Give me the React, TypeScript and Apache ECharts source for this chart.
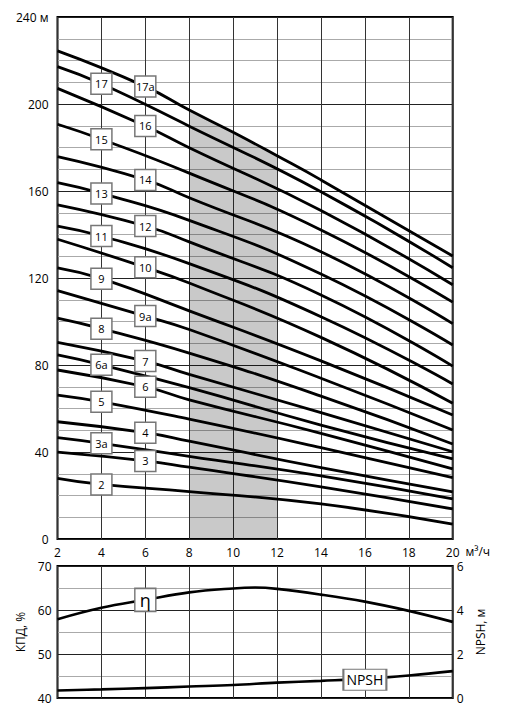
import { useEffect, useRef } from 'react';
import * as echarts from 'echarts';

// Pump head curves (top chart), ordered from the top curve to the bottom one
const curveNames = ['17a', '17', '16', '15', '14', '13', '12', '11', '10', '9', '9a', '8', '7', '6a', '6', '5', '4', '3a', '3', '2'];
const headAtQ2 = [224.4, 217.2, 207.2, 190.7, 175.8, 163.8, 153.6, 143.9, 137.8, 124.7, 114.2, 101.5, 90.4, 84.6, 77.7, 66.2, 53.9, 46.6, 39.9, 27.9];
const headAtQ8 = [197.2, 189.8, 179.9, 168.2, 156.9, 146.5, 136.6, 126.6, 117.7, 104.9, 96.3, 85.5, 75.7, 69.6, 64.0, 55.1, 45.0, 38.0, 33.0, 21.8];
const headAtQ14 = [165.1, 159.7, 151.0, 142.1, 132.1, 121.8, 112.2, 102.2, 92.7, 81.9, 73.9, 65.7, 58.1, 52.4, 48.6, 42.0, 32.8, 29.0, 24.0, 16.1];
const headAtQ20 = [130.1, 124.7, 116.9, 108.9, 99.0, 89.2, 79.5, 71.3, 62.4, 57.0, 50.1, 43.7, 40.1, 36.8, 32.2, 28.2, 21.7, 18.4, 13.8, 6.8];
// label tags sit on the curves
const labelFlow = [6, 4, 6, 4, 6, 4, 6, 4, 6, 4, 6, 4, 6, 4, 6, 4, 6, 4, 6, 4];
const labelHead = [208.0, 209.3, 189.9, 183.8, 165.1, 158.9, 143.9, 139.3, 124.9, 119.7, 102.5, 96.7, 81.8, 80.1, 70.0, 63.1, 48.9, 44.0, 35.9, 25.1];

// shaded working range (under the top curve 17a)
const bandFlow = [8, 10, 12];
const bandHead = [197.2, 187.0, 176.2];

// Efficiency (left axis, %) and NPSH (right axis, m)
const effFlow = [2, 4, 6, 8, 10, 11, 12, 14, 16, 18, 20];
const effValues = [57.9, 60.5, 62.3, 64.0, 64.9, 65.1, 64.8, 63.5, 61.9, 59.8, 57.3];
const npshFlow = [2, 4, 6, 8, 10, 12, 14, 16, 18, 20];
const npshValues = [0.34, 0.39, 0.45, 0.52, 0.59, 0.7, 0.78, 0.87, 1.02, 1.22];
const effLabel = { flow: 6, value: 62.3, text: 'η' };
const npshLabel = { flow: 16, value: 0.83, text: 'NPSH' };

const FONT = '"Open Sans", "Noto Sans", sans-serif';

export default function App() {
  const ref = useRef<HTMLDivElement>(null);
  useEffect(() => {
    if (!ref.current) return;
    const chart = echarts.init(ref.current, null, { renderer: 'svg' });

    const curveSeries: any[] = curveNames.map((name, i) => {
      const pts: [number, number][] = [
        [2, headAtQ2[i]],
        [labelFlow[i], labelHead[i]],
        [8, headAtQ8[i]],
        [14, headAtQ14[i]],
        [20, headAtQ20[i]],
      ];
      if (i === 0) {
        bandFlow.forEach((q, k) => {
          if (!pts.some((p) => p[0] === q)) pts.push([q, bandHead[k]]);
        });
      }
      pts.sort((a, b) => a[0] - b[0]);
      return {
        type: 'line',
        name,
        xAxisIndex: 0,
        yAxisIndex: 0,
        data: pts,
        smooth: 0.5,
        symbol: 'none',
        lineStyle: { color: '#000', width: 2.8 },
        z: 3,
      };
    });

    const option: any = {
      animation: false,
      textStyle: { fontFamily: FONT },
      grid: [
        { left: 57.5, right: 58.3, top: 17, bottom: 176, show: true, borderColor: '#000', borderWidth: 2, backgroundColor: 'transparent' },
        { left: 57.5, right: 58.3, top: 566, bottom: 17, show: true, borderColor: '#000', borderWidth: 2, backgroundColor: 'transparent' },
      ],
      xAxis: [
        {
          type: 'value', gridIndex: 0, min: 2, max: 20, interval: 2,
          axisLine: { show: false }, axisTick: { show: false },
          axisLabel: { color: '#000', fontSize: 12, margin: 7, fontFamily: FONT },
          splitLine: { show: true, lineStyle: { color: '#333', width: 1 } },
          name: 'м³/ч', nameLocation: 'end', nameGap: 8,
          nameTextStyle: { color: '#000', fontSize: 12, fontFamily: FONT, verticalAlign: 'top', padding: [6, 0, 0, 0] },
        },
        {
          type: 'value', gridIndex: 1, min: 2, max: 20, interval: 2,
          axisLine: { show: false }, axisTick: { show: false }, axisLabel: { show: false },
          splitLine: { show: true, lineStyle: { color: '#333', width: 1 } },
        },
      ],
      yAxis: [
        {
          type: 'value', gridIndex: 0, min: 0, max: 240, interval: 40,
          axisLine: { show: false }, axisTick: { show: false },
          axisLabel: { color: '#000', fontSize: 12, margin: 9, fontFamily: FONT, formatter: (v: number) => (v === 240 ? '240 м' : String(v)) },
          splitLine: { show: true, lineStyle: { color: '#222', width: 1 } },
          minorTick: { show: false, splitNumber: 4 },
          minorSplitLine: { show: true, lineStyle: { color: '#aaa', width: 1 } },
        },
        {
          type: 'value', gridIndex: 1, min: 40, max: 70, interval: 10,
          axisLine: { show: false }, axisTick: { show: false },
          axisLabel: { color: '#000', fontSize: 12, margin: 6, fontFamily: FONT },
          splitLine: { show: true, lineStyle: { color: '#222', width: 1 } },
          minorTick: { show: false, splitNumber: 2 },
          minorSplitLine: { show: true, lineStyle: { color: '#aaa', width: 1 } },
          name: 'КПД, %', nameLocation: 'middle', nameRotate: 90, nameGap: 24,
          nameTextStyle: { color: '#000', fontSize: 12, fontFamily: FONT },
        },
        {
          type: 'value', gridIndex: 1, min: 0, max: 6, interval: 2, position: 'right',
          axisLine: { show: false }, axisTick: { show: false },
          axisLabel: { color: '#000', fontSize: 12, margin: 4, fontFamily: FONT },
          splitLine: { show: false },
          name: 'NPSH, м', nameLocation: 'middle', nameRotate: 90, nameGap: 22,
          nameTextStyle: { color: '#000', fontSize: 12, fontFamily: FONT },
        },
      ],
      series: [
        {
          type: 'line', name: 'band', xAxisIndex: 0, yAxisIndex: 0,
          data: bandFlow.map((q, k) => [q, bandHead[k]]),
          smooth: 0.5, symbol: 'none',
          lineStyle: { width: 0, opacity: 0 },
          areaStyle: { color: '#000', opacity: 0.21 },
          z: 1,
        },
        ...curveSeries,
        {
          type: 'scatter', name: 'tags', xAxisIndex: 0, yAxisIndex: 0,
          data: curveNames.map((n, i) => [labelFlow[i], labelHead[i], n]),
          symbol: 'rect', symbolSize: [21, 21],
          itemStyle: { color: '#fff', borderColor: '#777', borderWidth: 1.5, opacity: 1 },
          label: { show: true, position: 'inside', color: '#000', fontSize: 11, fontFamily: FONT, formatter: (p: any) => p.data[2] },
          z: 5,
        },
        {
          type: 'line', name: 'eff', xAxisIndex: 1, yAxisIndex: 1,
          data: effFlow.map((q, k) => [q, effValues[k]]),
          smooth: 0.4, symbol: 'none', lineStyle: { color: '#000', width: 2.6 }, z: 3,
        },
        {
          type: 'line', name: 'npsh', xAxisIndex: 1, yAxisIndex: 2,
          data: npshFlow.map((q, k) => [q, npshValues[k]]),
          smooth: 0.4, symbol: 'none', lineStyle: { color: '#000', width: 2.6 }, z: 3,
        },
        {
          type: 'scatter', name: 'effTag', xAxisIndex: 1, yAxisIndex: 1,
          data: [[effLabel.flow, effLabel.value, effLabel.text]],
          symbol: 'rect', symbolSize: [21, 23],
          itemStyle: { color: '#fff', borderColor: '#777', borderWidth: 1.5, opacity: 1 },
          label: { show: true, position: 'inside', color: '#000', fontSize: 18, fontFamily: FONT, formatter: (p: any) => p.data[2] },
          z: 5,
        },
        {
          type: 'scatter', name: 'npshTag', xAxisIndex: 1, yAxisIndex: 2,
          data: [[npshLabel.flow, npshLabel.value, npshLabel.text]],
          symbol: 'rect', symbolSize: [43, 21],
          itemStyle: { color: '#fff', borderColor: '#777', borderWidth: 1.5, opacity: 1 },
          label: { show: true, position: 'inside', color: '#000', fontSize: 14, fontFamily: FONT, formatter: (p: any) => p.data[2] },
          z: 5,
        },
      ],
    };
    chart.setOption(option);
    return () => chart.dispose();
  }, []);
  return <div ref={ref} style={{ position: 'fixed', left: 0, top: 0, width: 511, height: 715, background: '#fff' }} />;
}
